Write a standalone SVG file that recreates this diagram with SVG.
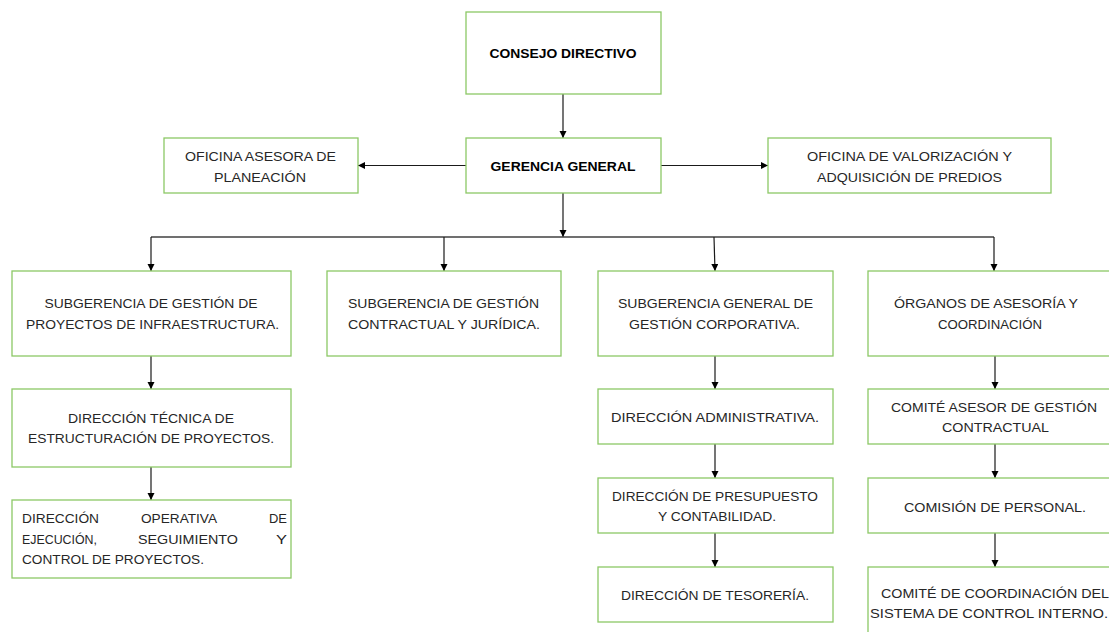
<svg xmlns="http://www.w3.org/2000/svg" width="1109" height="632" viewBox="0 0 1109 632">
<style>
.box{fill:#ffffff;stroke:#8cc866;stroke-width:1.3}
.t{font-family:"Liberation Sans",Arial,sans-serif;font-size:13.5px;fill:#262626;text-anchor:middle}
.tl{font-family:"Liberation Sans",Arial,sans-serif;font-size:13.5px;fill:#262626}
.b{font-weight:bold;fill:#000000}
.c{stroke:#1a1a1a;stroke-width:1.2;fill:none}
.bus{stroke:#404040;stroke-width:1.4;fill:none}
</style>
<defs>
<marker id="ah" markerUnits="userSpaceOnUse" markerWidth="8" markerHeight="8" refX="7" refY="3.5" orient="auto">
<path d="M0,0 L7,3.5 L0,7 z" fill="#000000"/>
</marker>
</defs>
<rect width="1109" height="632" fill="#ffffff"/>
<g id="connectors">
<line class="c" x1="563" y1="94" x2="563" y2="138" marker-end="url(#ah)"/>
<line class="c" x1="466" y1="165.5" x2="358" y2="165.5" marker-end="url(#ah)"/>
<line class="c" x1="661" y1="165.5" x2="768" y2="165.5" marker-end="url(#ah)"/>
<line class="c" x1="563" y1="193" x2="563" y2="237" marker-end="url(#ah)"/>
<line class="bus" x1="151" y1="237" x2="994" y2="237"/>
<line class="c" x1="151" y1="237" x2="151" y2="271" marker-end="url(#ah)"/>
<line class="c" x1="444" y1="237" x2="444" y2="271" marker-end="url(#ah)"/>
<line class="c" x1="714" y1="237" x2="715" y2="271" marker-end="url(#ah)"/>
<line class="c" x1="994" y1="237" x2="994" y2="271" marker-end="url(#ah)"/>
<line class="c" x1="151" y1="356" x2="151" y2="389" marker-end="url(#ah)"/>
<line class="c" x1="151" y1="467" x2="151" y2="500" marker-end="url(#ah)"/>
<line class="c" x1="715" y1="356" x2="715" y2="389" marker-end="url(#ah)"/>
<line class="c" x1="715" y1="444" x2="715" y2="478" marker-end="url(#ah)"/>
<line class="c" x1="715" y1="533" x2="715" y2="567" marker-end="url(#ah)"/>
<line class="c" x1="995" y1="356" x2="995" y2="389" marker-end="url(#ah)"/>
<line class="c" x1="995" y1="444" x2="995" y2="478" marker-end="url(#ah)"/>
<line class="c" x1="995" y1="533" x2="995" y2="567" marker-end="url(#ah)"/>
</g>
<g id="consejo">
<rect class="box" x="466" y="12" width="195" height="82"/>
<text class="t b" x="563" y="58" textLength="147" lengthAdjust="spacingAndGlyphs">CONSEJO DIRECTIVO</text>
</g>
<g id="gerencia">
<rect class="box" x="466" y="138" width="195" height="55"/>
<text class="t b" x="563" y="171" textLength="145" lengthAdjust="spacingAndGlyphs">GERENCIA GENERAL</text>
</g>
<g id="oficina-planeacion">
<rect class="box" x="164" y="138" width="194" height="55"/>
<text class="t" x="260.5" y="161" textLength="151" lengthAdjust="spacingAndGlyphs">OFICINA ASESORA DE</text>
<text class="t" x="260" y="182" textLength="92" lengthAdjust="spacingAndGlyphs">PLANEACIÓN</text>
</g>
<g id="oficina-valorizacion">
<rect class="box" x="768" y="138" width="283" height="55"/>
<text class="t" x="909.5" y="161" textLength="205" lengthAdjust="spacingAndGlyphs">OFICINA DE VALORIZACIÓN Y</text>
<text class="t" x="909.5" y="182" textLength="185" lengthAdjust="spacingAndGlyphs">ADQUISICIÓN DE PREDIOS</text>
</g>
<g id="sub-proyectos">
<rect class="box" x="12" y="271" width="279" height="85"/>
<text class="t" x="151" y="308" textLength="213" lengthAdjust="spacingAndGlyphs">SUBGERENCIA DE GESTIÓN DE</text>
<text class="t" x="152.5" y="329" textLength="253" lengthAdjust="spacingAndGlyphs">PROYECTOS DE INFRAESTRUCTURA.</text>
</g>
<g id="sub-contractual">
<rect class="box" x="327" y="271" width="234" height="85"/>
<text class="t" x="443.5" y="308" textLength="191" lengthAdjust="spacingAndGlyphs">SUBGERENCIA DE GESTIÓN</text>
<text class="t" x="444" y="329" textLength="192" lengthAdjust="spacingAndGlyphs">CONTRACTUAL Y JURÍDICA.</text>
</g>
<g id="sub-corporativa">
<rect class="box" x="598" y="271" width="235" height="85"/>
<text class="t" x="715.5" y="308" textLength="195" lengthAdjust="spacingAndGlyphs">SUBGERENCIA GENERAL DE</text>
<text class="t" x="714.5" y="329" textLength="171" lengthAdjust="spacingAndGlyphs">GESTIÓN CORPORATIVA.</text>
</g>
<g id="organos">
<rect class="box" x="868" y="271" width="250" height="85"/>
<text class="t" x="986" y="308" textLength="184" lengthAdjust="spacingAndGlyphs">ÓRGANOS DE ASESORÍA Y</text>
<text class="t" x="990" y="329" textLength="104" lengthAdjust="spacingAndGlyphs">COORDINACIÓN</text>
</g>
<g id="dir-tecnica">
<rect class="box" x="12" y="389" width="279" height="78"/>
<text class="t" x="151" y="423" textLength="166" lengthAdjust="spacingAndGlyphs">DIRECCIÓN TÉCNICA DE</text>
<text class="t" x="151" y="443" textLength="246" lengthAdjust="spacingAndGlyphs">ESTRUCTURACIÓN DE PROYECTOS.</text>
</g>
<g id="dir-operativa">
<rect class="box" x="12" y="500" width="279" height="78"/>
<text class="tl" x="22" y="523" textLength="77" lengthAdjust="spacingAndGlyphs">DIRECCIÓN</text>
<text class="tl" x="141" y="523" textLength="76" lengthAdjust="spacingAndGlyphs">OPERATIVA</text>
<text class="tl" x="269" y="523" textLength="18" lengthAdjust="spacingAndGlyphs">DE</text>
<text class="tl" x="22" y="544" textLength="75" lengthAdjust="spacingAndGlyphs">EJECUCIÓN,</text>
<text class="tl" x="138" y="544" textLength="100" lengthAdjust="spacingAndGlyphs">SEGUIMIENTO</text>
<text class="tl" x="276" y="544" textLength="11" lengthAdjust="spacingAndGlyphs">Y</text>
<text class="tl" x="22" y="564" textLength="182" lengthAdjust="spacingAndGlyphs">CONTROL DE PROYECTOS.</text>
</g>
<g id="dir-administrativa">
<rect class="box" x="598" y="389" width="235" height="55"/>
<text class="t" x="715" y="422" textLength="208" lengthAdjust="spacingAndGlyphs">DIRECCIÓN ADMINISTRATIVA.</text>
</g>
<g id="dir-presupuesto">
<rect class="box" x="598" y="478" width="235" height="55"/>
<text class="t" x="715" y="501" textLength="206" lengthAdjust="spacingAndGlyphs">DIRECCIÓN DE PRESUPUESTO</text>
<text class="t" x="717" y="521" textLength="118" lengthAdjust="spacingAndGlyphs">Y CONTABILIDAD.</text>
</g>
<g id="dir-tesoreria">
<rect class="box" x="598" y="567" width="235" height="55"/>
<text class="t" x="715" y="600" textLength="188" lengthAdjust="spacingAndGlyphs">DIRECCIÓN DE TESORERÍA.</text>
</g>
<g id="comite-asesor">
<rect class="box" x="868" y="389" width="250" height="55"/>
<text class="t" x="994" y="412" textLength="206" lengthAdjust="spacingAndGlyphs">COMITÉ ASESOR DE GESTIÓN</text>
<text class="t" x="995.5" y="432" textLength="107" lengthAdjust="spacingAndGlyphs">CONTRACTUAL</text>
</g>
<g id="comision-personal">
<rect class="box" x="868" y="478" width="250" height="55"/>
<text class="t" x="995" y="512" textLength="182" lengthAdjust="spacingAndGlyphs">COMISIÓN DE PERSONAL.</text>
</g>
<g id="comite-coordinacion">
<rect class="box" x="868" y="567" width="250" height="80"/>
<text class="t" x="995" y="598" textLength="228" lengthAdjust="spacingAndGlyphs">COMITÉ DE COORDINACIÓN DEL</text>
<text class="t" x="989" y="618" textLength="238" lengthAdjust="spacingAndGlyphs">SISTEMA DE CONTROL INTERNO.</text>
</g>
</svg>
